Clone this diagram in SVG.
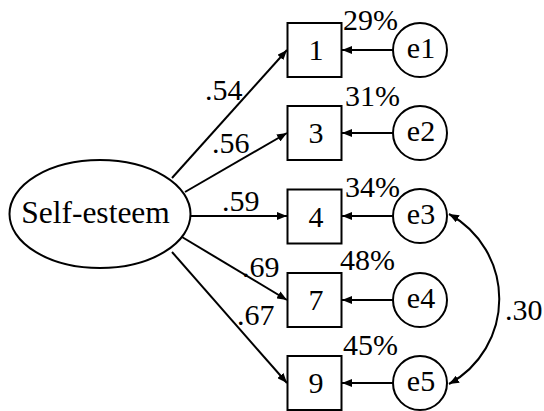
<svg xmlns="http://www.w3.org/2000/svg" width="544" height="411" viewBox="0 0 544 411">
  <defs>
    <marker id="head" markerUnits="userSpaceOnUse" viewBox="0 0 10 8" refX="10" refY="4" markerWidth="10" markerHeight="8" orient="auto-start-reverse">
      <path d="M0,0 L10,4 L0,8 z" fill="#000"/>
    </marker>
    <style>
      .shape { fill: #fff; stroke: #000; stroke-width: 2; }
      .edge { fill: none; stroke: #000; stroke-width: 2; marker-end: url(#head); }
      .both { marker-start: url(#head); }
      .mid { text-anchor: middle; }
    </style>
  </defs>
  <rect width="544" height="411" fill="#fff"/>

  <!-- paths: factor loadings, error terms, error covariance -->
  <g id="connectors">
    <line class="edge" x1="172" y1="178" x2="287" y2="50"/>
    <line class="edge" x1="185" y1="192" x2="287" y2="133"/>
    <line class="edge" x1="190" y1="216" x2="287" y2="216"/>
    <line class="edge" x1="182" y1="237" x2="287" y2="300"/>
    <line class="edge" x1="172" y1="252" x2="287" y2="383"/>

    <line class="edge" x1="393" y1="50" x2="342" y2="50"/>
    <line class="edge" x1="393" y1="133" x2="342" y2="133"/>
    <line class="edge" x1="393" y1="216" x2="342" y2="216"/>
    <line class="edge" x1="393" y1="300" x2="342" y2="300"/>
    <line class="edge" x1="393" y1="383" x2="342" y2="383"/>

    <path class="edge both" d="M449,214 A97,97 0 0 1 449,384"/>

    <text font-family="Liberation Serif" font-size="30" x="205" y="100">.54</text>
    <text font-family="Liberation Serif" font-size="30" x="212" y="153">.56</text>
    <text font-family="Liberation Serif" font-size="30" x="222" y="211">.59</text>
    <text font-family="Liberation Serif" font-size="30" x="242" y="277">.69</text>
    <text font-family="Liberation Serif" font-size="30" x="237" y="325">.67</text>
    <text font-family="Liberation Serif" font-size="30" x="505" y="320">.30</text>
  </g>

  <!-- latent factor -->
  <g id="self-esteem">
    <ellipse class="shape" cx="100" cy="214" rx="90.5" ry="54"/>
    <text class="mid" font-family="Liberation Serif" font-size="31.5" x="95.5" y="223">Self-esteem</text>
  </g>

  <!-- observed items with explained variance -->
  <g id="item1">
    <rect class="shape" x="287.5" y="23" width="54" height="54"/>
    <text class="mid" font-family="Liberation Serif" font-size="30" x="316" y="60">1</text>
    <text font-family="Liberation Serif" font-size="30" x="343" y="30">29%</text>
  </g>
  <g id="item3">
    <rect class="shape" x="287.5" y="106" width="54" height="54"/>
    <text class="mid" font-family="Liberation Serif" font-size="30" x="316" y="143">3</text>
    <text font-family="Liberation Serif" font-size="30" x="345" y="106">31%</text>
  </g>
  <g id="item4">
    <rect class="shape" x="287.5" y="189.5" width="54" height="54"/>
    <text class="mid" font-family="Liberation Serif" font-size="30" x="316" y="226.5">4</text>
    <text font-family="Liberation Serif" font-size="30" x="345" y="197">34%</text>
  </g>
  <g id="item7">
    <rect class="shape" x="287.5" y="273" width="54" height="54"/>
    <text class="mid" font-family="Liberation Serif" font-size="30" x="316" y="310">7</text>
    <text font-family="Liberation Serif" font-size="30" x="340" y="270">48%</text>
  </g>
  <g id="item9">
    <rect class="shape" x="287.5" y="356" width="54" height="54"/>
    <text class="mid" font-family="Liberation Serif" font-size="30" x="316" y="393">9</text>
    <text font-family="Liberation Serif" font-size="30" x="343" y="355">45%</text>
  </g>

  <!-- residual terms -->
  <g id="e1">
    <circle class="shape" cx="420" cy="50" r="27"/>
    <text class="mid" font-family="Liberation Serif" font-size="30" x="421" y="58">e1</text>
  </g>
  <g id="e2">
    <circle class="shape" cx="420" cy="133" r="27"/>
    <text class="mid" font-family="Liberation Serif" font-size="30" x="421" y="141">e2</text>
  </g>
  <g id="e3">
    <circle class="shape" cx="420" cy="216" r="27"/>
    <text class="mid" font-family="Liberation Serif" font-size="30" x="421" y="224">e3</text>
  </g>
  <g id="e4">
    <circle class="shape" cx="420" cy="300" r="27"/>
    <text class="mid" font-family="Liberation Serif" font-size="30" x="421" y="308">e4</text>
  </g>
  <g id="e5">
    <circle class="shape" cx="420" cy="383" r="27"/>
    <text class="mid" font-family="Liberation Serif" font-size="30" x="421" y="391">e5</text>
  </g>
</svg>
